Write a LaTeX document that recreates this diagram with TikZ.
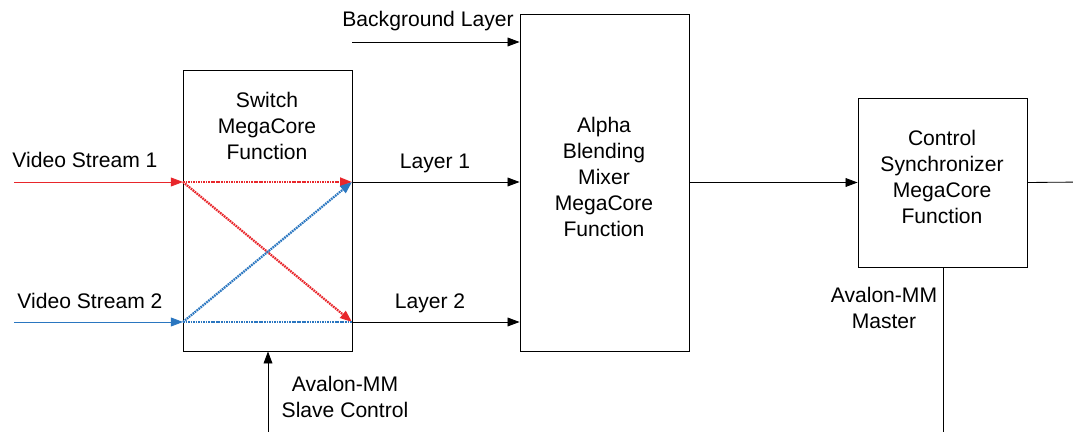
\documentclass[tikz,border=0pt]{standalone}
\usepackage{fontspec}
\setmainfont{Liberation Sans}
\usetikzlibrary{arrows.meta}
\definecolor{vidred}{HTML}{E8262B}
\definecolor{vidblue}{HTML}{2A76C0}

\begin{document}
\begin{tikzpicture}[x=0.025cm,y=-0.025cm,
  font=\fontsize{15}{18.5}\selectfont,
  >={Triangle[length=0.3cm,width=0.22cm]},
  block/.style={draw,line width=0.6pt,inner sep=0pt},
  wire/.style={line width=0.6pt},
  xwire/.style={line width=1.6pt,dash pattern=on 1.2pt off 0.6pt}]
  \useasboundingbox (0,0) rectangle (1073,432);
  % blocks
  \node[block,minimum width=4.225cm,minimum height=7.025cm] (switch) at (267.5,210.5) {};
  \node[align=center] (switchtxt) at (267,126) {Switch\\MegaCore\\Function};
  \node[block,minimum width=4.225cm,minimum height=8.425cm] (mixer) at (604.5,182.5) {};
  \node[align=center] (mixertxt) at (604,177) {Alpha\\Blending\\Mixer\\MegaCore\\Function};
  \node[block,minimum width=4.225cm,minimum height=4.225cm] (sync) at (942.5,182.5) {};
  \node[align=center] (synctxt) at (942,177) {Control\\Synchronizer\\MegaCore\\Function};
  % free ends and switch ports
  \coordinate (vs1) at (14,182);
  \coordinate (vs2) at (14,322);
  \coordinate (in1) at (183,182);
  \coordinate (in2) at (183,322);
  \coordinate (out1) at (352,182);
  \coordinate (out2) at (352,322);
  \coordinate (bg) at (352,42);
  \coordinate (slave) at (268,432);
  \coordinate (master) at (943,432);
  \coordinate (syncout) at (1086,182);
  % labels
  \node (vs1lbl) at (85,160) {Video Stream 1};
  \node (vs2lbl) at (90,301) {Video Stream 2};
  \node (l1lbl) at (435,163) {Layer 1};
  \node (l2lbl) at (430,303) {Layer 2};
  \node (bglbl) at (428,21) {Background Layer};
  \node[align=center] (slavelbl) at (345,397) {Avalon-MM\\Slave Control};
  \node[align=center] (masterlbl) at (884,308) {Avalon-MM\\Master};
  % inputs
  \draw[wire,vidred,->] (vs1) -- (in1);
  \draw[wire,vidblue,->] (vs2) -- (in2);
  % crossbar
  \draw[xwire,vidred,->] (in1) -- (out1);
  \draw[xwire,vidred,->] (in1) -- (out2);
  \draw[xwire,vidblue,->] (in2) -- (out1);
  \draw[xwire,vidblue] (in2) -- (out2);
  % layers to mixer
  \draw[wire,->] (out1) -- (out1 -| mixer.west);
  \draw[wire,->] (out2) -- (out2 -| mixer.west);
  \draw[wire,->] (bg) -- (bg -| mixer.west);
  \draw[wire,->] (mixer.east) -- (sync.west);
  \draw[wire,->] (sync.east) -- (syncout);
  % control
  \draw[wire,->] (slave) -- (switch.south -| slave);
  \draw[wire] (sync.south -| master) -- (master);
\end{tikzpicture}
\end{document}
